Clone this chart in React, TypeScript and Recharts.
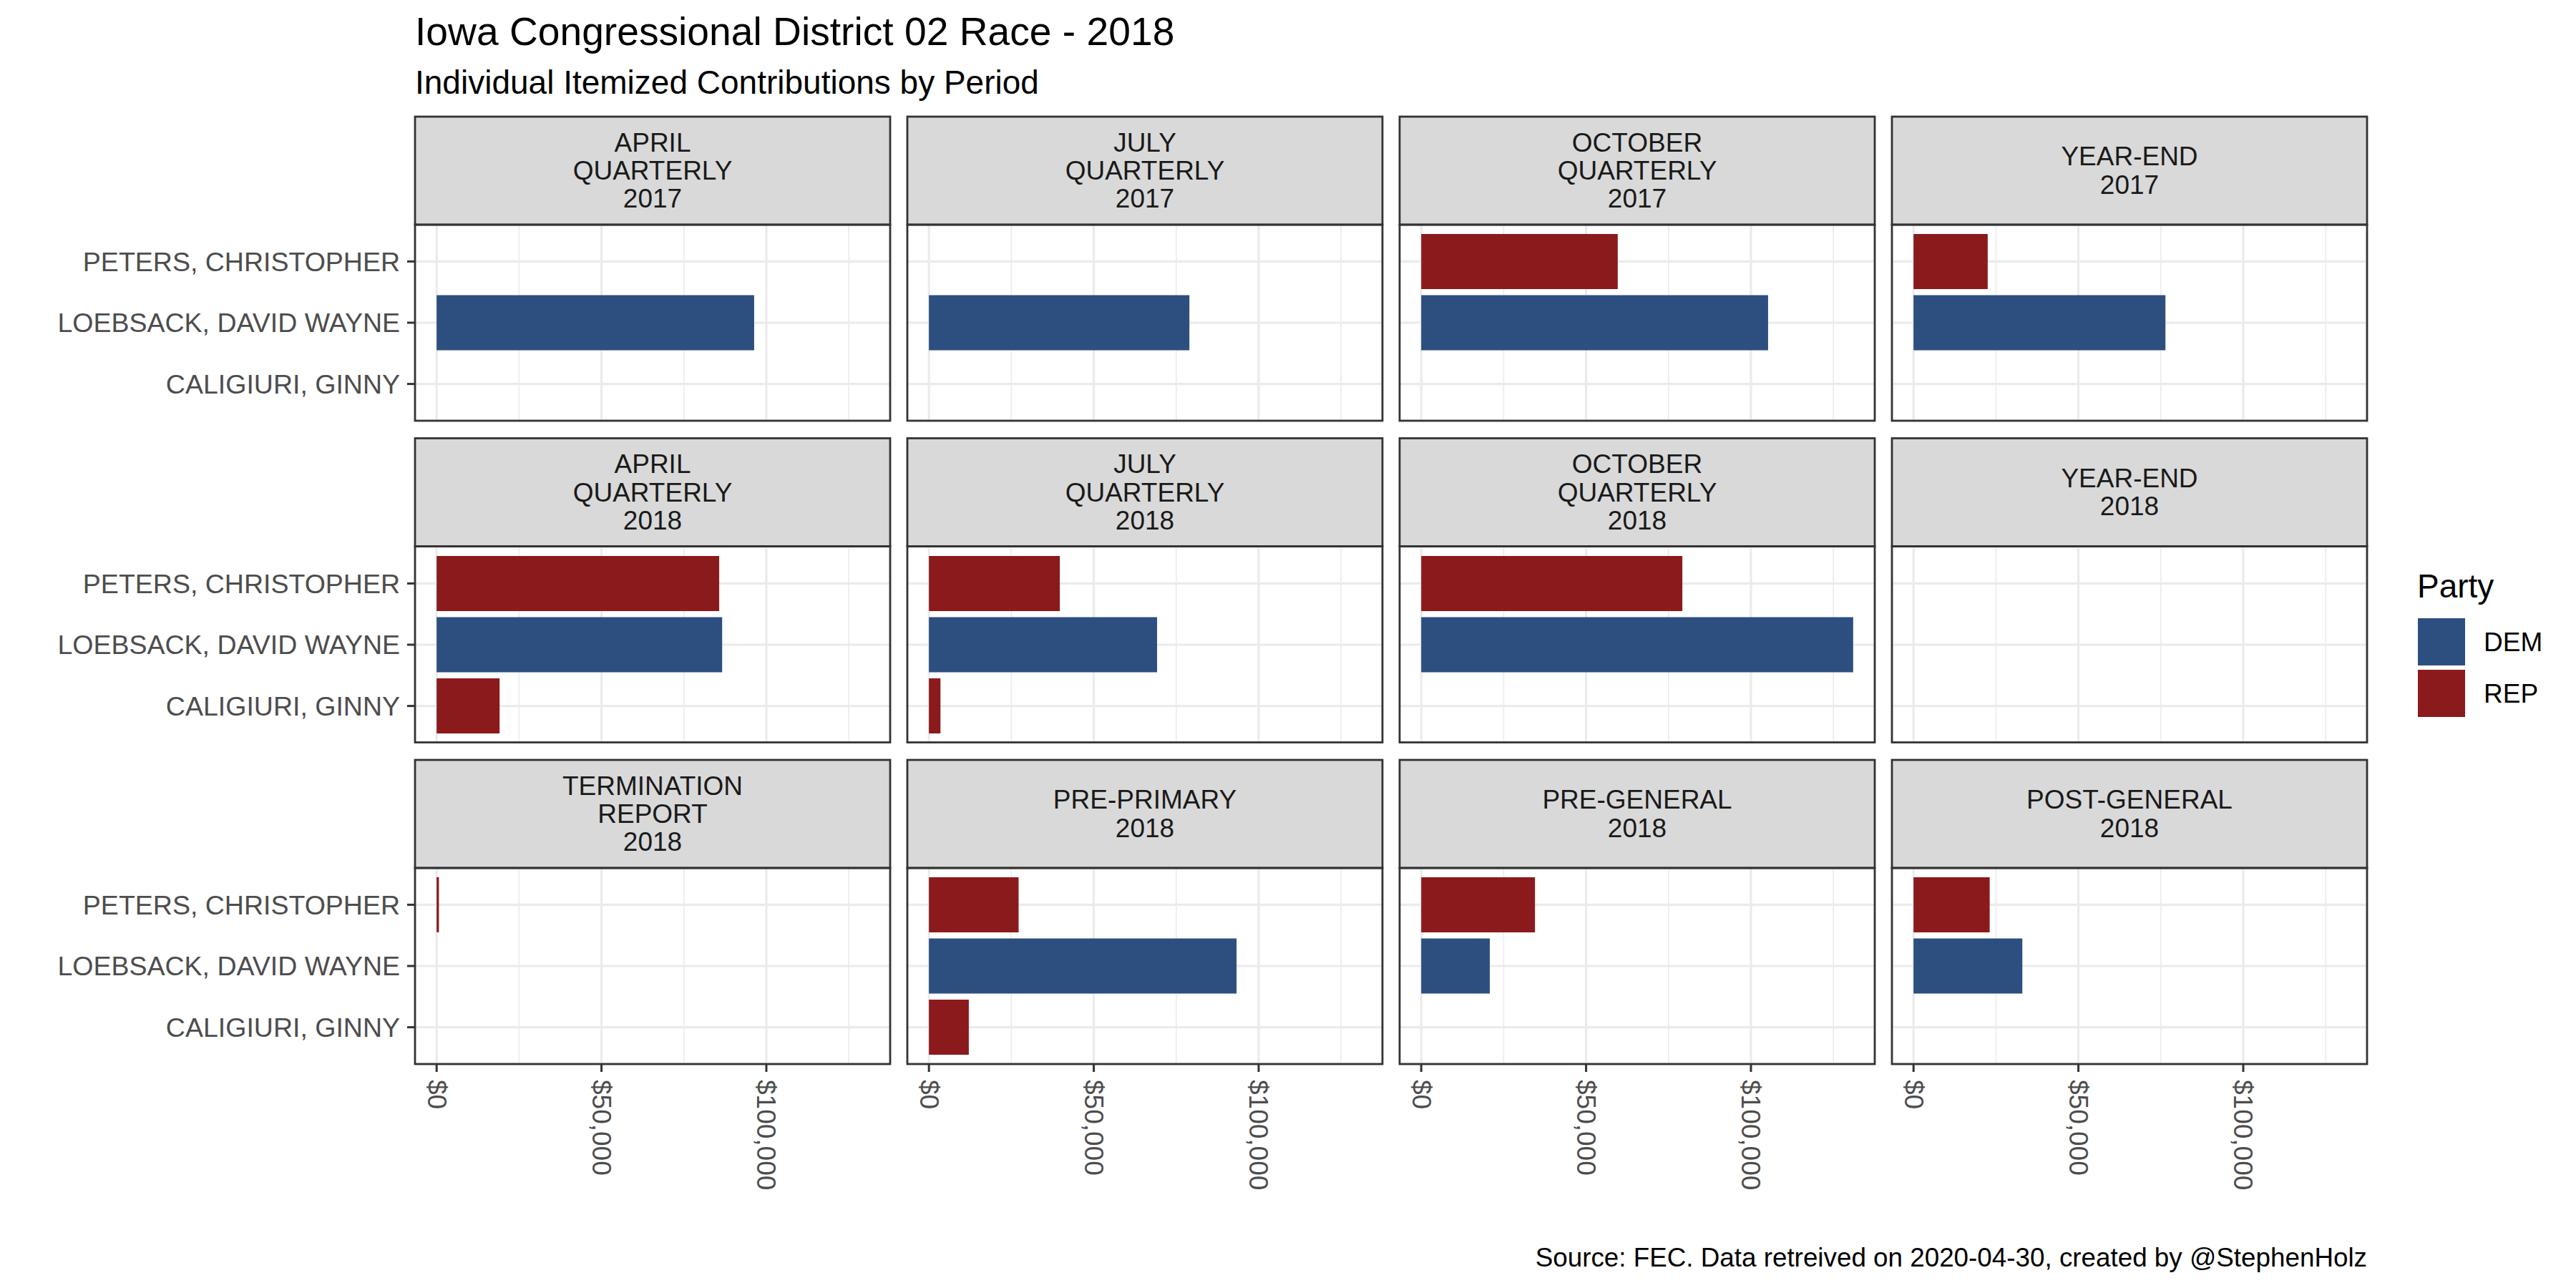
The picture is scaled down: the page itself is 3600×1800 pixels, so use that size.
import { Bar, BarChart, CartesianGrid, Cell, XAxis, YAxis } from "recharts";

const FONT = '"Liberation Sans", Arial, Helvetica, sans-serif';

const CANDIDATES = ["PETERS, CHRISTOPHER", "LOEBSACK, DAVID WAYNE", "CALIGIURI, GINNY"];
const CANDIDATE_PARTY = ["REP", "DEM", "REP"];
const PARTIES = ["DEM", "REP"];
const PARTY_COLORS: Record<string, string> = { DEM: "#2C4F80", REP: "#8B1A1C" };

// strip labels, row by row
const PERIOD_LABELS = [
  ["APRIL", "QUARTERLY", "2017"],
  ["JULY", "QUARTERLY", "2017"],
  ["OCTOBER", "QUARTERLY", "2017"],
  ["YEAR-END", "2017"],
  ["APRIL", "QUARTERLY", "2018"],
  ["JULY", "QUARTERLY", "2018"],
  ["OCTOBER", "QUARTERLY", "2018"],
  ["YEAR-END", "2018"],
  ["TERMINATION", "REPORT", "2018"],
  ["PRE-PRIMARY", "2018"],
  ["PRE-GENERAL", "2018"],
  ["POST-GENERAL", "2018"],
];

// itemized contributions per period: [Peters, Loebsack, Caligiuri]
const PERIOD_VALUES: (number | null)[][] = [
  [null, 96300, null],
  [null, 79000, null],
  [59600, 105200, null],
  [22500, 76400, null],
  [85700, 86600, 19100],
  [39700, 69200, 3500],
  [79200, 131000, null],
  [null, null, null],
  [700, null, null],
  [27200, 93300, 12100],
  [34500, 20800, null],
  [23100, 33000, null],
];

const X_BREAKS = [0, 50000, 100000];
const X_MINOR = [25000, 75000, 125000];

const TITLE = "Iowa Congressional District 02 Race - 2018";
const SUBTITLE = "Individual Itemized Contributions by Period";
const CAPTION = "Source: FEC. Data retreived on 2020-04-30, created by @StephenHolz";
const LEGEND_TITLE = "Party";

const maxVal = Math.max(...PERIOD_VALUES.flat().map((v) => v ?? 0));
const X_DOMAIN = [-0.05 * maxVal, 1.05 * maxVal];

// layout
const PANEL_X0 = 580;
const COL_STEP = 688;
const PANEL_W = 664;
const STRIP_Y0 = 163;
const ROW_STEP = 449.5;
const STRIP_H = 151;
const PLOT_H = 274;
const Y_AXIS_W = 580;
const X_AXIS_H = 260;
const LINE_H = 39.3;
const SMALL = 37;

const fmtDollar = (v: number) => "$" + v.toLocaleString("en-US");

function XTick(props: any) {
  const { x, y, payload } = props;
  return (
    <text
      transform={`translate(${x},${y}) rotate(90)`}
      textAnchor="start"
      dominantBaseline="central"
      fill="#4D4D4D"
      fontSize={SMALL}
      fontFamily={FONT}
    >
      {fmtDollar(payload.value)}
    </text>
  );
}

function Panel({ index }: { index: number }) {
  const col = index % 4;
  const row = Math.floor(index / 4);
  const left = PANEL_X0 + col * COL_STEP;
  const plotTop = STRIP_Y0 + row * ROW_STEP + STRIP_H;
  const showY = col === 0;
  const showX = row === 2;
  const yw = showY ? Y_AXIS_W : 0;
  const xh = showX ? X_AXIS_H : 0;
  const data = CANDIDATES.map((name, i) => ({
    name,
    party: CANDIDATE_PARTY[i],
    value: PERIOD_VALUES[index][i],
  }));

  return (
    <div style={{ position: "absolute", left: left - yw, top: plotTop }}>
      <BarChart
        layout="vertical"
        width={yw + PANEL_W}
        height={PLOT_H + xh}
        data={data}
        margin={{ top: 0, right: 0, bottom: 0, left: 0 }}
        barCategoryGap="5%"
      >
        <CartesianGrid stroke="#EBEBEB" strokeWidth={1.6} horizontal={false} verticalValues={X_MINOR} />
        <CartesianGrid stroke="#EBEBEB" strokeWidth={3.2} verticalValues={X_BREAKS} />
        <XAxis
          type="number"
          domain={X_DOMAIN}
          ticks={X_BREAKS}
          allowDataOverflow
          hide={!showX}
          height={xh}
          axisLine={false}
          stroke="#333333"
          tickLine={{ stroke: "#333333", strokeWidth: 3 }}
          tickSize={11}
          tickMargin={11}
          tick={<XTick />}
          interval={0}
        />
        <YAxis
          type="category"
          dataKey="name"
          hide={!showY}
          width={yw}
          padding={{ top: 8.6, bottom: 8.6 }}
          axisLine={false}
          stroke="#333333"
          tickLine={{ stroke: "#333333", strokeWidth: 3 }}
          tickSize={11}
          tickMargin={10}
          tick={{ fill: "#4D4D4D", fontSize: 37.5, fontFamily: FONT }}
          interval={0}
        />
        <Bar dataKey="value" isAnimationActive={false}>
          {data.map((d) => (
            <Cell key={d.name} fill={PARTY_COLORS[d.party]} />
          ))}
        </Bar>
      </BarChart>
    </div>
  );
}

export default function App() {
  return (
    <div
      style={{
        position: "absolute",
        left: 0,
        top: 0,
        width: 3600,
        height: 1800,
        background: "#FFFFFF",
        overflow: "hidden",
        fontFamily: FONT,
      }}
    >
      {PERIOD_LABELS.map((_, i) => (
        <Panel key={i} index={i} />
      ))}
      <svg
        width={3600}
        height={1800}
        style={{ position: "absolute", left: 0, top: 0, pointerEvents: "none" }}
        fontFamily={FONT}
      >
        <text x={580} y={63} fontSize={55.2} fill="#000">
          {TITLE}
        </text>
        <text x={580} y={131} fontSize={46} fill="#000">
          {SUBTITLE}
        </text>
        {PERIOD_LABELS.map((lines, i) => {
          const col = i % 4;
          const row = Math.floor(i / 4);
          const x = PANEL_X0 + col * COL_STEP;
          const y = STRIP_Y0 + row * ROW_STEP;
          const cy = y + STRIP_H / 2;
          return (
            <g key={i}>
              <rect x={x} y={y} width={PANEL_W} height={STRIP_H} fill="#D9D9D9" stroke="#333333" strokeWidth={2.8} />
              {lines.map((line, j) => (
                <text
                  key={j}
                  x={x + PANEL_W / 2}
                  y={cy + (j - (lines.length - 1) / 2) * LINE_H}
                  textAnchor="middle"
                  dominantBaseline="central"
                  fontSize={SMALL}
                  fill="#1A1A1A"
                >
                  {line}
                </text>
              ))}
              <rect x={x} y={y + STRIP_H} width={PANEL_W} height={PLOT_H} fill="none" stroke="#333333" strokeWidth={2.8} />
            </g>
          );
        })}
        <text x={3378} y={835} fontSize={46} fill="#000">
          {LEGEND_TITLE}
        </text>
        {PARTIES.map((p, i) => (
          <g key={p}>
            <rect x={3379} y={864 + i * 72} width={66} height={66} fill={PARTY_COLORS[p]} />
            <text x={3471} y={897 + i * 72} dominantBaseline="central" fontSize={SMALL} fill="#000">
              {p}
            </text>
          </g>
        ))}
        <text x={3308} y={1770} textAnchor="end" fontSize={36.8} fill="#000">
          {CAPTION}
        </text>
      </svg>
    </div>
  );
}
